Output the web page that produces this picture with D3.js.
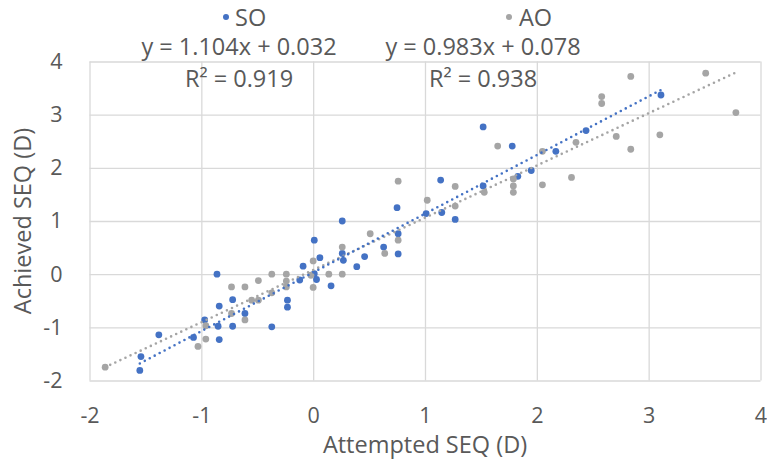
<!DOCTYPE html>
<html lang="en">
<head>
<meta charset="UTF-8">
<title>Attempted vs Achieved SEQ</title>
<style>
    body { margin: 0; background: #fff; }
    svg text { font-family: "Open Sans", sans-serif; fill: #595959; }
    .grid line { stroke: #d9d9d9; stroke-width: 1.3px; }
    .grid path { display: none; }
    .ticks path, .ticks line { display: none; }
    .ticks text { font-size: 21.5px; fill: #595959; }
</style>
</head>
<body>
<svg width="767" height="460"></svg>
<script src="https://d3js.org/d3.v7.min.js"></script>
<script>
// tick values
var xTicks = [-2, -1, 0, 1, 2, 3, 4];
var yTicks = [-2, -1, 0, 1, 2, 3, 4];

// SO series: attempted (x) / achieved (y)
var soX = [-1.55, -1.54, -1.38, -1.07, -0.97, -0.85, -0.84, -0.84, -0.86, -0.72, -0.72, -0.61,
           -0.37, -0.23, -0.23, -0.12, -0.09, 0.01, 0.01, 0.03, 0.06, 0.16, 0.26, 0.26, 0.27,
           0.39, 0.46, 0.63, 0.76, 0.76, 0.75, 1.01, 1.15, 1.14, 1.27, 1.52, 1.52, 1.78, 1.83,
           1.95, 2.17, 2.44, 3.11];
var soY = [-1.81, -1.55, -1.14, -1.19, -0.86, -0.98, -1.23, -0.60, 0.00, -0.98, -0.48, -0.74,
           -0.99, -0.49, -0.62, -0.11, 0.15, 0.64, 0.01, -0.10, 0.31, -0.22, 1.00, 0.39, 0.26,
           0.14, 0.33, 0.51, 0.76, 0.38, 1.25, 1.14, 1.16, 1.77, 1.03, 2.77, 1.66, 2.41, 1.84,
           1.95, 2.31, 2.70, 3.37];

// AO series
var aoX = [-1.86, -1.03, -0.96, -0.96, -0.73, -0.61, -0.73, -0.61, -0.55, -0.49, -0.49, -0.37,
           -0.37, -0.24, -0.24, -0.24, 0.00, -0.02, 0.00, 0.14, 0.26, 0.26, 0.51, 0.64, 0.76,
           0.76, 1.02, 1.27, 1.27, 1.53, 1.65, 1.79, 1.79, 1.79, 2.05, 2.05, 2.31, 2.35, 2.58,
           2.58, 2.71, 2.84, 2.84, 3.10, 3.51, 3.78];
var aoY = [-1.75, -1.36, -1.22, -0.97, -0.74, -0.86, -0.24, -0.24, -0.49, -0.49, -0.12, -0.35,
           0.00, 0.00, -0.13, -0.24, -0.25, -0.02, 0.25, 0.00, 0.00, 0.51, 0.76, 0.39, 0.64,
           1.75, 1.39, 1.28, 1.65, 1.54, 2.41, 1.79, 1.66, 1.54, 1.68, 2.31, 1.82, 2.48, 3.34,
           3.21, 2.59, 2.35, 3.72, 2.62, 3.78, 3.04];

// linear trendlines: slope, intercept, R²
var soFit = [1.104, 0.032, 0.919];
var aoFit = [0.983, 0.078, 0.938];

var blue = "#4472c4", grey = "#a5a5a5";

var svg = d3.select("svg");

var x = d3.scaleLinear().domain([-2, 4]).range([89.5, 760.5]);
var y = d3.scaleLinear().domain([-2, 4]).range([380.5, 61.5]);

// gridlines
svg.append("g").attr("class", "grid")
    .attr("transform", "translate(0,380.5)")
    .call(d3.axisBottom(x).tickValues(xTicks).tickSize(-319).tickFormat(""));
svg.append("g").attr("class", "grid")
    .attr("transform", "translate(89.5,0)")
    .call(d3.axisLeft(y).tickValues(yTicks).tickSize(-671).tickFormat(""));

// tick labels
svg.append("g").attr("class", "ticks")
    .attr("transform", "translate(0,380.5)")
    .call(d3.axisBottom(x).tickValues(xTicks).tickSize(0).tickPadding(27).tickFormat(d3.format("d")));
svg.append("g").attr("class", "ticks")
    .attr("transform", "translate(89.5,0)")
    .call(d3.axisLeft(y).tickValues(yTicks).tickSize(0).tickPadding(27).tickFormat(d3.format("d")));

// plain hyphen for negatives, like the original
svg.selectAll(".ticks text").text(function (d) { return String(d); });

function points(xs, ys, color) {
    svg.append("g").selectAll("circle")
        .data(xs.map(function (v, i) { return [v, ys[i]]; }))
        .enter().append("circle")
        .attr("cx", function (d) { return x(d[0]); })
        .attr("cy", function (d) { return y(d[1]); })
        .attr("r", 3.4)
        .attr("fill", color);
}
points(soX, soY, blue);
points(aoX, aoY, grey);

function trend(xs, fit, color) {
    var ext = d3.extent(xs);
    svg.append("line")
        .attr("x1", x(ext[0])).attr("y1", y(fit[0] * ext[0] + fit[1]))
        .attr("x2", x(ext[1])).attr("y2", y(fit[0] * ext[1] + fit[1]))
        .attr("stroke", color)
        .attr("stroke-width", 2.6)
        .attr("stroke-linecap", "round")
        .attr("stroke-dasharray", "0 5.6");
}
trend(aoX, aoFit, grey);
trend(soX, soFit, blue);

// legend
svg.append("circle").attr("cx", 226).attr("cy", 17).attr("r", 3).attr("fill", blue);
svg.append("text").attr("x", 235).attr("y", 26).attr("font-size", 23.5).text("SO");
svg.append("circle").attr("cx", 509).attr("cy", 17).attr("r", 3).attr("fill", grey);
svg.append("text").attr("x", 519).attr("y", 26).attr("font-size", 23.5).text("AO");

// trendline labels
function fitLabel(cx, fit) {
    svg.append("text").attr("x", cx).attr("y", 55).attr("text-anchor", "middle")
        .attr("font-size", 23.5)
        .text("y = " + fit[0].toFixed(3) + "x + " + fit[1].toFixed(3));
    svg.append("text").attr("x", cx).attr("y", 87).attr("text-anchor", "middle")
        .attr("font-size", 23.5)
        .text("R² = " + fit[2].toFixed(3));
}
fitLabel(239, soFit);
fitLabel(483, aoFit);

// axis titles
svg.append("text").attr("x", 425).attr("y", 453).attr("text-anchor", "middle")
    .attr("font-size", 23.5).text("Attempted SEQ (D)");
svg.append("text").attr("transform", "translate(31,221) rotate(-90)")
    .attr("text-anchor", "middle").attr("font-size", 23.5).text("Achieved SEQ (D)");
</script>
</body>
</html>
